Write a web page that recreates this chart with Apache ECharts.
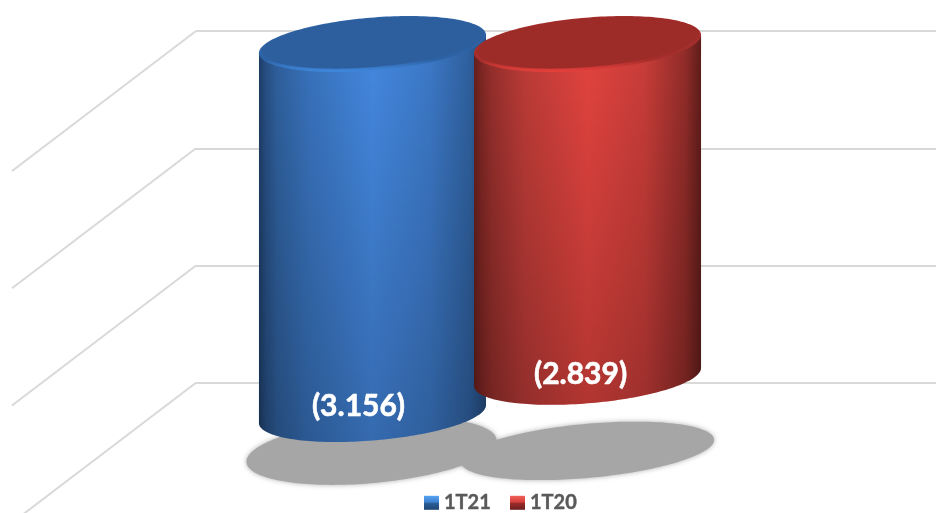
<!DOCTYPE html>
<html>
<head>
<meta charset="utf-8">
<style>html,body{margin:0;padding:0;background:#fff}#c{width:936px;height:513px}</style>
<script src="https://cdn.jsdelivr.net/npm/echarts@6/dist/echarts.min.js"></script>
</head>
<body>
<div id="c"></div>
<script>
var categories = ['1T'];
var seriesNames = ['1T21', '1T20'];
var values1T21 = [-3156];
var values1T20 = [-2839];
var axisTicks = [0, -1000, -2000, -3000];

var RX = 113.9, RY = 26.4, TILT = 4.8 * Math.PI / 180;
var SHADOW_TILT = 5.2 * Math.PI / 180;

var palette = {
  '1T21': {
    side: ['#1d3d66','#274f84','#2f609d','#3872bc','#4488e0','#3c79c8','#2f609e','#24497a'],
    top: '#2d5f9e', rimA: '#2d62a4', rimB: '#4088de', labelDx: -14, labelDy: -8,
    shadowDx: -1, shadowDrop: 37, shadowRx: 125.5, shadowRy: 32
  },
  '1T20': {
    side: ['#651f1c','#7d2623','#962f2c','#bc3b37','#e4443f','#ca3d39','#922c29','#5f1d1a'],
    top: '#9d2c29', rimA: '#a42e2b', rimB: '#e8403c', labelDx: -7, labelDy: -3,
    shadowDx: 0, shadowDrop: 74, shadowRx: 127, shadowRy: 27
  }
};
var sideStops = [0, .03, .08, .22, .5, .75, .93, 1];

function ell(cx, cy, rx, ry, tilt, t) {
  var x = rx * Math.cos(t), y = ry * Math.sin(t);
  return [cx + x * Math.cos(tilt) + y * Math.sin(tilt),
          cy - x * Math.sin(tilt) + y * Math.cos(tilt)];
}
function ellipsePts(cx, cy, rx, ry, tilt) {
  var p = [];
  for (var i = 0; i < 180; i++) p.push(ell(cx, cy, rx, ry, tilt, i / 180 * 2 * Math.PI));
  return p;
}
function grad(x0, y0, x1, y1, cols, stops) {
  return new echarts.graphic.LinearGradient(x0, y0, x1, y1, cols.map(function (c, i) {
    return { offset: stops ? stops[i] : i / (cols.length - 1), color: c };
  }));
}
function fmt(v) {
  var s = String(Math.abs(v));
  return '(' + s.slice(0, -3) + '.' + s.slice(-3) + ')';
}

function cylinderItem(name, dir) {
  var pal = palette[name];
  return function (params, api) {
    var v = api.value(1);
    var base = api.coord([api.value(0), 0]);
    var end = api.coord([api.value(0), v]);
    var cx = base[0] + dir * api.size([1, 0])[0] * 0.1179;
    var topY = base[1], botY = end[1];
    // parameter of the right-most point of the tilted ellipse
    var tEdge = Math.atan2(RY * Math.sin(TILT), RX * Math.cos(TILT));
    var body = [ell(cx, topY, RX, RY, TILT, tEdge + Math.PI)];
    var n = 90;
    for (var i = 0; i <= n; i++) {
      body.push(ell(cx, botY, RX, RY, TILT, tEdge + Math.PI * (1 - i / n)));
    }
    body.push(ell(cx, topY, RX, RY, TILT, tEdge));
    return {
      type: 'group',
      children: [
        { type: 'polygon', shape: { points: body }, style: { fill: grad(0, 0, 1, 0, pal.side, sideStops) } },
        { type: 'polygon', shape: { points: body }, style: { fill: grad(0, 0, 0, 1, ['rgba(0,0,0,0)', 'rgba(0,0,0,0.22)']) } },
        { type: 'polygon', shape: { points: ellipsePts(cx, topY, RX, RY, TILT) },
          style: { fill: grad(0, 0, 0, 1, [pal.rimA, pal.rimA, pal.rimB], [0, .78, 1]) } },
        { type: 'polygon', shape: { points: ellipsePts(cx + 0.5, topY - 1.2, RX - 3, RY - 2.2, TILT) }, style: { fill: pal.top } },
        { type: 'text', style: { x: cx + pal.labelDx, y: botY + pal.labelDy, text: fmt(v), fill: '#fff', stroke: '#fff', lineWidth: 0.6,
          font: 'bold 30px Lato', align: 'center', verticalAlign: 'middle' } }
      ]
    };
  };
}

function shadowItem(params, api) {
  var out = [];
  var base = api.coord([0, 0]);
  var w = api.size([1, 0])[0];
  [[values1T21, -1, '1T21'], [values1T20, 1, '1T20']].forEach(function (s) {
    var pal = palette[s[2]];
    var y = api.coord([0, s[0][0]])[1] + pal.shadowDrop;
    out.push({ type: 'polygon', shape: { points: ellipsePts(base[0] + s[1] * w * 0.1179 + pal.shadowDx, y, pal.shadowRx, pal.shadowRy, SHADOW_TILT) },
      style: { fill: '#a6a6a6', shadowBlur: 5, shadowColor: 'rgba(166,166,166,0.9)' } });
  });
  return { type: 'group', children: out };
}

function wallItem(params, api) {
  var p = api.coord([0, api.value(0)]);
  return { type: 'line', shape: { x1: p[0], y1: p[1], x2: p[0] - 184, y2: p[1] + 140 },
    style: { stroke: '#d9d9d9', lineWidth: 2 } };
}

var hiddenAxis = { axisLine: { show: false }, axisTick: { show: false }, axisLabel: { show: false } };

var chart = echarts.init(document.getElementById('c'));
chart.setOption({
  backgroundColor: '#fff',
  animation: false,
  grid: [
    { left: 24, right: 0, top: 44, height: 469 },
    { left: 196, right: 0, top: 31, height: 469 }
  ],
  xAxis: [
    Object.assign({ type: 'category', gridIndex: 0, data: categories, splitLine: { show: false } }, hiddenAxis),
    Object.assign({ type: 'value', gridIndex: 1, min: 0, max: 1, splitLine: { show: false } }, hiddenAxis)
  ],
  yAxis: [
    Object.assign({ type: 'value', gridIndex: 0, min: -4000, max: 0, interval: 1000, splitLine: { show: false } }, hiddenAxis),
    Object.assign({ type: 'value', gridIndex: 1, min: -4000, max: 0, interval: 1000,
      splitLine: { show: true, showMinLine: false, lineStyle: { color: '#d9d9d9', width: 2 } } }, hiddenAxis)
  ],
  legend: {
    data: seriesNames,
    left: 424, bottom: 0, itemWidth: 15, itemHeight: 14, itemGap: 19,
    icon: 'rect',
    textStyle: { color: '#595959', fontFamily: 'Lato', fontWeight: 'bold', fontSize: 20, textBorderColor: '#595959', textBorderWidth: 0.4 },
    padding: 0
  },
  series: [
    { name: 'wall', type: 'custom', xAxisIndex: 1, yAxisIndex: 1, data: axisTicks.map(function (t) { return [t]; }),
      encode: { y: 0 }, renderItem: wallItem, silent: true, z: 1 },
    { name: 'shadow', type: 'custom', xAxisIndex: 0, yAxisIndex: 0, data: [[0, 0]], renderItem: shadowItem, silent: true, z: 2 },
    { name: '1T21', type: 'custom', xAxisIndex: 0, yAxisIndex: 0, z: 3,
      data: values1T21.map(function (v, i) { return [i, v]; }), encode: { x: 0, y: 1 },
      itemStyle: { color: grad(0, 0, 0, 1, ['#55a3f2', '#3d80d0', '#2a5c96', '#1f4675'], [0, .45, .55, 1]) },
      renderItem: cylinderItem('1T21', -1) },
    { name: '1T20', type: 'custom', xAxisIndex: 0, yAxisIndex: 0, z: 4,
      data: values1T20.map(function (v, i) { return [i, v]; }), encode: { x: 0, y: 1 },
      itemStyle: { color: grad(0, 0, 0, 1, ['#f0605a', '#d63f3b', '#962c2a', '#6e1f1d'], [0, .45, .55, 1]) },
      renderItem: cylinderItem('1T20', 1) }
  ]
});
</script>
</body>
</html>
